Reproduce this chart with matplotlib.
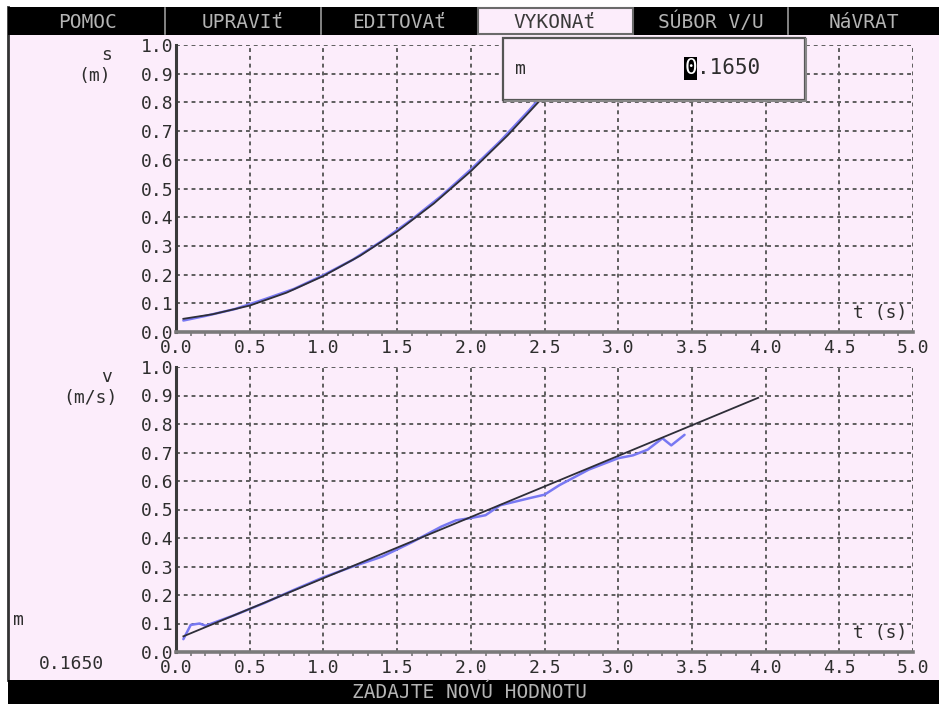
import matplotlib.pyplot as plt
from matplotlib.patches import Rectangle
from matplotlib.ticker import MultipleLocator

# --- data ---
t_s_meas = [0.05, 0.2, 0.4, 0.6, 0.8, 1.0, 1.2, 1.4, 1.6, 1.8, 2.0, 2.2, 2.4, 2.46]
s_meas = [0.040, 0.056, 0.080, 0.114, 0.150, 0.198, 0.252, 0.318, 0.392, 0.474, 0.566, 0.665, 0.775, 0.81]
t_s_fit = [0.05, 0.25, 0.5, 0.75, 1.0, 1.25, 1.5, 1.75, 2.0, 2.25, 2.5, 2.75]
s_fit = [0.046, 0.062, 0.092, 0.137, 0.195, 0.266, 0.350, 0.448, 0.560, 0.685, 0.824, 0.975]

t_v_meas = [0.05, 0.10, 0.16, 0.20, 0.4, 0.6, 0.8, 1.0, 1.2, 1.4, 1.6, 1.8, 1.9, 2.0,
            2.1, 2.2, 2.4, 2.5, 2.6, 2.8, 3.0, 3.1, 3.2, 3.3, 3.36, 3.45]
v_meas = [0.045, 0.095, 0.100, 0.092, 0.130, 0.172, 0.218, 0.262, 0.300, 0.335, 0.385,
          0.440, 0.462, 0.470, 0.480, 0.515, 0.540, 0.552, 0.585, 0.640, 0.680, 0.690,
          0.710, 0.750, 0.725, 0.762]
t_v_fit = [0.05, 3.95]
v_fit = [0.055, 0.892]

x_ticks = [0.0, 0.5, 1.0, 1.5, 2.0, 2.5, 3.0, 3.5, 4.0, 4.5, 5.0]
y_ticks = [0.0, 0.1, 0.2, 0.3, 0.4, 0.5, 0.6, 0.7, 0.8, 0.9, 1.0]
menu = ['POMOC', 'UPRAVIť', 'EDITOVAť', 'VYKONAť', 'SÚBOR V/U', 'NáVRAT']
menu_x = [88, 243, 399, 555, 711, 864]

W, H = 939, 704
PINK = '#fcedfb'
GRID = '#5e5e5e'
TXT = '#2e2e2e'
MENU_TXT = '#b4b4b4'
FONT = 'DejaVu Sans Mono'

plt.rcParams['font.family'] = FONT

fig = plt.figure(figsize=(W / 100, H / 100), dpi=100, facecolor='white')

# background layer in pixel coords
bg = fig.add_axes([0, 0, 1, 1], zorder=0)
bg.set_xlim(0, W)
bg.set_ylim(H, 0)
bg.axis('off')
bg.add_patch(Rectangle((8, 35), W - 8, 645, facecolor=PINK, edgecolor='none'))
bg.plot([8, 8], [7, 680], color='#333333', lw=2)
bg.text(107, 55, 's', fontsize=13, color=TXT, ha='center', va='center')
bg.text(95, 76, '(m)', fontsize=13, color=TXT, ha='center', va='center')
bg.text(107, 377, 'v', fontsize=13, color=TXT, ha='center', va='center')
bg.text(90, 398, '(m/s)', fontsize=13, color=TXT, ha='center', va='center')
bg.text(18, 620, 'm', fontsize=13, color=TXT, ha='center', va='center')
bg.text(72, 664, '0.1650', fontsize=13, color=TXT, ha='center', va='center')


def make_axes(rect, x_meas, y_meas, x_fit, y_fit):
    ax = fig.add_axes(rect, zorder=1)
    ax.set_facecolor('none')
    ax.set_xlim(0, 5)
    ax.set_ylim(0, 1)
    ax.xaxis.set_minor_locator(MultipleLocator(0.1))
    ax.set_xticks(x_ticks)
    ax.set_yticks(y_ticks)
    ax.set_xticklabels([f'{v:.1f}' for v in x_ticks])
    ax.set_yticklabels([f'{v:.1f}' for v in y_ticks])
    ax.tick_params(axis='both', which='major', length=0, labelsize=13, colors=TXT, pad=2)
    ax.tick_params(axis='x', which='major', pad=5)
    ax.tick_params(axis='x', which='minor', length=3, width=1.2, color='#777777', direction='out')
    ax.grid(True, which='major', color=GRID, lw=1.4, linestyle=(0, (2, 2)))
    for side in ('top', 'right'):
        ax.spines[side].set_visible(False)
    ax.spines['left'].set_color('#3a3a3a')
    ax.spines['left'].set_linewidth(2.2)
    ax.spines['bottom'].set_color('#7a7a7a')
    ax.spines['bottom'].set_linewidth(2.6)
    ax.plot(x_meas, y_meas, color='#7878f2', lw=1.8, solid_capstyle='round')
    ax.plot(x_fit, y_fit, color='#2e2e38', lw=1.3)
    ax.text(4.78, 0.065, 't (s)', fontsize=13, color=TXT, ha='center', va='center')
    return ax


left = 176 / W
width = (913 - 176) / W
ax1 = make_axes([left, 1 - 332 / H, width, (332 - 45) / H], t_s_meas, s_meas, t_s_fit, s_fit)
ax2 = make_axes([left, 1 - 652 / H, width, (652 - 367) / H], t_v_meas, v_meas, t_v_fit, v_fit)

# overlay: menu bar, dialog, status bar
ov = fig.add_axes([0, 0, 1, 1], zorder=5)
ov.set_facecolor('none')
ov.set_xlim(0, W)
ov.set_ylim(H, 0)
ov.axis('off')
ov.add_patch(Rectangle((8, 7), W - 8, 28, facecolor='black', edgecolor='none'))
for xs in (165, 321, 788):
    ov.plot([xs, xs], [8, 34], color='#9a9a9a', lw=1.2)
ov.add_patch(Rectangle((478, 8), 155, 26, facecolor=PINK, edgecolor='#6a6a6a', lw=1.5))
for lab, xc in zip(menu, menu_x):
    col = '#3a3a3a' if lab == 'VYKONAť' else MENU_TXT
    ov.text(xc, 22, lab, fontsize=14, color=col, ha='center', va='center')

ov.add_patch(Rectangle((8, 680), W - 8, 24, facecolor='black', edgecolor='none'))
ov.text(470, 693, 'ZADAJTE NOVÚ HODNOTU', fontsize=14, color=MENU_TXT, ha='center', va='center')

ov.add_patch(Rectangle((503, 38), 302, 62, facecolor=PINK, edgecolor='#555555', lw=1.6))
ov.plot([505, 806, 806], [101, 101, 39], color='#888888', lw=1.5)
ov.text(515, 69, 'm', fontsize=13, color=TXT, ha='left', va='center')
ov.add_patch(Rectangle((684, 57), 13, 23, facecolor='black', edgecolor='none'))
ov.text(690.5, 68, '0', fontsize=15, color='white', ha='center', va='center')
ov.text(697, 68, '.1650', fontsize=15, color=TXT, ha='left', va='center')

fig.savefig('out.png', dpi=100, facecolor='white')
